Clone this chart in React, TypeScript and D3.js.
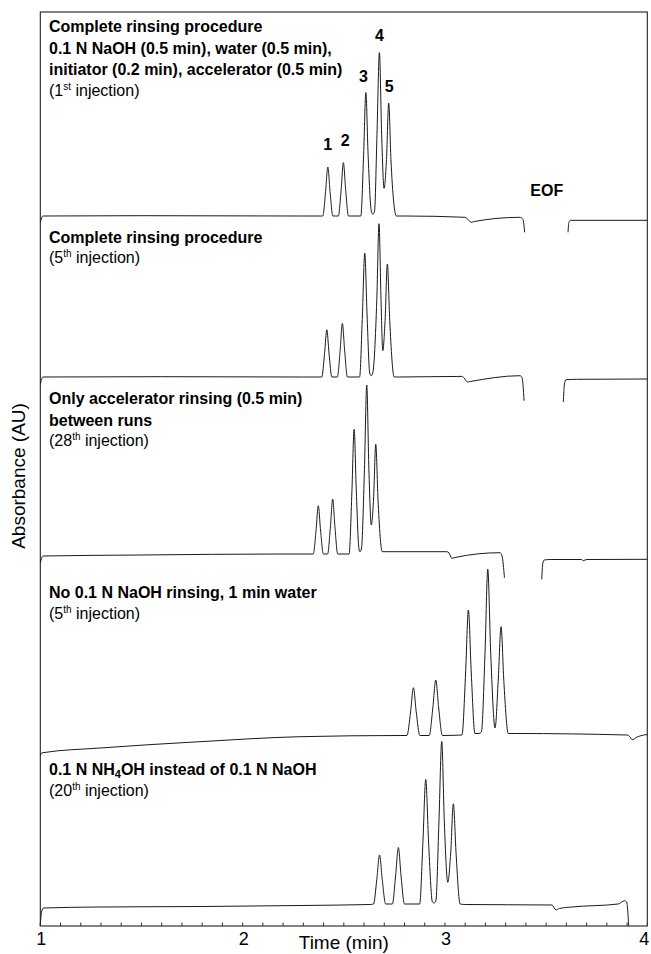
import React, { useEffect, useRef } from "react";
import * as d3 from "d3";

// time axis (min)
const timeDomain = [1, 4];
const timeTickLabels = [1, 2, 3, 4];

// baseline level of each trace (arbitrary absorbance units), top to bottom
const traceOffsets = [710, 549, 372, 190, 22];

// traces: segments of [time (min), signal above the trace baseline]
const trace1 = [
  [[1.0, -6.5], [1.013, 0], [1.5, 0.3], [2.3, 0], [2.396, 0], [2.41, 24.5], [2.421, 49], [2.432, 24.5], [2.446, 0],
    [2.473, 0], [2.487, 26.7], [2.498, 53.4], [2.509, 26.7], [2.523, 0],
    [2.584, 0], [2.598, 61.7], [2.609, 123.4], [2.62, 61.7], [2.636, 5], [2.644, 1.7], [2.652, 5],
    [2.664, 81.7], [2.676, 163.4], [2.687, 81.7], [2.699, 27.7], [2.711, 56.5], [2.722, 113], [2.733, 56.5], [2.76, 0],
    [2.8, 0], [3.1, -1.3], [3.13, -6.3], [3.145, -5.5], [3.37, -1.3], [3.385, -3.3], [3.394, -16.3]],
  [[3.608, -16.3], [3.613, -6.3], [3.621, -4.3], [4.0, -4.3]],
];
const trace2 = [
  [[1.0, -7.7], [1.013, 0], [1.6, 0.3], [2.3, 0], [2.391, 0], [2.405, 23.7], [2.416, 47.3], [2.427, 23.7], [2.441, 0],
    [2.468, 0], [2.482, 26.8], [2.493, 53.6], [2.504, 26.8], [2.518, 0],
    [2.578, 0], [2.592, 62], [2.6035, 124], [2.615, 62], [2.628, 4], [2.635, 1.3], [2.643, 4],
    [2.663, 76.7], [2.674, 153.3], [2.684, 76.7], [2.6926, 26.3], [2.704, 56.5], [2.7153, 113], [2.727, 56.5], [2.749, 0],
    [2.77, 0], [3.083, 0.6], [3.095, -1], [3.111, -5], [3.125, -4.5], [3.371, 1.3], [3.381, -0.7], [3.391, -23.7]],
  [[3.585, -25], [3.59, -8], [3.598, -2.7], [3.65, -2.3], [4.0, -2]],
];
const trace3 = [
  [[1.0, -9], [1.013, -2], [1.5, -1], [2.2, 0], [2.349, 0], [2.363, 24], [2.374, 48.3], [2.385, 24], [2.399, 0],
    [2.42, 0], [2.434, 27.5], [2.445, 55], [2.456, 27.5], [2.47, 0],
    [2.526, 0], [2.54, 62], [2.551, 124.7], [2.562, 62], [2.575, 5], [2.58, 2.3], [2.587, 5],
    [2.602, 84.5], [2.6134, 169], [2.624, 84.5], [2.636, 29], [2.647, 55], [2.658, 109.7], [2.669, 55], [2.69, 2.3],
    [2.75, 2.3], [3.009, 2.3], [3.02, 1], [3.034, -4.3], [3.05, -3.5], [3.272, 1.3], [3.282, -2], [3.294, -23.7]],
  [[3.4785, -25.3], [3.483, -10], [3.491, -6], [3.52, -5.5], [3.675, -5.5], [3.683, -6.7], [3.7, -5.5], [4.0, -5.3]],
];
const trace4 = [
  [[1.0, -20], [1.004, -17.5], [1.013, -16.7], [1.295, -12], [1.789, -5.7], [2.284, -0.7], [2.778, 0.5],
    [2.812, 0.5], [2.83, 24], [2.844, 48.3], [2.858, 24], [2.876, 0.5],
    [2.922, 0.5], [2.94, 28], [2.9545, 56], [2.969, 28], [2.987, 0.5],
    [3.084, 1], [3.102, 63], [3.1157, 126], [3.13, 63], [3.148, 2.5], [3.168, 2.5], [3.18, 4],
    [3.198, 83.3], [3.2116, 166.7], [3.226, 83.3], [3.2477, 8], [3.263, 54.7], [3.2773, 109.3], [3.291, 54.7], [3.313, 2.5],
    [3.35, 2.5], [3.9, 1], [3.915, -1], [3.925, -3.7], [3.95, -1], [4.0, 1.5]],
];
const trace5 = [
  [[1.0, -21], [1.006, -8], [1.016, -4], [1.295, -3], [1.8, -2.5], [2.284, -1.5], [2.63, -0.5],
    [2.647, 0], [2.663, 24.5], [2.6767, 49], [2.69, 24.5], [2.707, 0],
    [2.74, 0], [2.756, 28], [2.7697, 56.5], [2.783, 28], [2.8, 0],
    [2.875, 0], [2.891, 62], [2.905, 124.5], [2.919, 62], [2.938, 2], [2.946, 1], [2.955, 3],
    [2.97, 81], [2.984, 162.5], [2.997, 81], [3.014, 21.7], [3.028, 50], [3.0415, 100.2], [3.055, 50], [3.075, 0],
    [3.1, -0.5], [3.529, -1], [3.549, -6], [3.565, -4.5], [3.628, -3], [3.856, 0], [3.888, 3.3], [3.898, 2], [3.908, -21.6]],
];
const traces = [trace1, trace2, trace3, trace4, trace5];

// trace descriptions (bold lines), "_{x}" marks a subscript
const traceTitles = [
  ["Complete rinsing procedure", "0.1 N NaOH (0.5 min), water (0.5 min),", "initiator (0.2 min), accelerator (0.5 min)"],
  ["Complete rinsing procedure"],
  ["Only accelerator rinsing (0.5 min)", "between runs"],
  ["No 0.1 N NaOH rinsing, 1 min water"],
  ["0.1 N NH_{4}OH instead of 0.1 N NaOH"],
];
const injectionNumbers = ["1", "5", "28", "5", "20"];
const injectionSuffixes = ["st", "th", "th", "th", "th"];

// peak numbers on the first trace
const peakNames = ["1", "2", "3", "4", "5"];
const peakTimes = [2.421, 2.498, 2.609, 2.676, 2.722];
const peakHeights = [49, 53.4, 123.4, 163.4, 113];

const App = () => {
  const svgRef = useRef<SVGSVGElement>(null);

  useEffect(() => {
    const w = 651;
    const h = 954;
    const font = "'Liberation Sans', Arial, Helvetica, sans-serif";
    const svg = d3.select(svgRef.current)
      .attr("width", w)
      .attr("height", h)
      .style("font-family", font);
    svg.selectAll("*").remove();

    const x = d3.scaleLinear().domain(timeDomain).range([40.3, 647.3]);
    const y = d3.scaleLinear().domain([0, 914]).range([926, 12]);

    // frame
    svg.append("rect")
      .attr("x", x(1)).attr("y", y(914))
      .attr("width", x(4) - x(1)).attr("height", y(0) - y(914))
      .attr("fill", "none").attr("stroke", "#222").attr("stroke-width", 1.1);

    // minor ticks every 0.1 min, pointing inward
    const ticks = d3.range(0, 31).map(i => 1 + i / 10);
    svg.append("g").selectAll("line")
      .data(ticks)
      .join("line")
      .attr("x1", d => x(d)).attr("x2", d => x(d))
      .attr("y1", y(0)).attr("y2", y(0) - 3.5)
      .attr("stroke", "#333").attr("stroke-width", 1);

    svg.append("g").selectAll("text")
      .data(timeTickLabels)
      .join("text")
      .attr("x", d => (d === 4 ? x(d) - 3 : x(d) + 1))
      .attr("y", 945)
      .attr("text-anchor", "middle")
      .attr("font-size", 18)
      .text(d => d);

    svg.append("text")
      .attr("x", x(2.5)).attr("y", 949)
      .attr("text-anchor", "middle")
      .attr("font-size", 19)
      .text("Time (min)");

    svg.append("text")
      .attr("transform", `translate(25,${476}) rotate(-90)`)
      .attr("text-anchor", "middle")
      .attr("font-size", 19)
      .text("Absorbance (AU)");

    // traces
    traces.forEach((segments, i) => {
      const off = traceOffsets[i];
      const line = d3.line<number[]>()
        .x(d => x(d[0]))
        .y(d => y(off + d[1]))
        .curve(d3.curveMonotoneX);
      svg.append("g").selectAll("path")
        .data(segments)
        .join("path")
        .attr("d", d => line(d))
        .attr("fill", "none")
        .attr("stroke", "#1a1a1a")
        .attr("stroke-width", 1)
        .attr("stroke-linejoin", "round");
    });

    // trace descriptions
    const titleTops = [32.3, 242.5, 404.3, 598, 775];
    const lineGap = 21.3;
    traceTitles.forEach((lines, i) => {
      const g = svg.append("g");
      lines.forEach((ln, j) => {
        const t = g.append("text")
          .attr("x", 49).attr("y", titleTops[i] + j * lineGap)
          .attr("font-size", 16).attr("font-weight", "bold");
        const parts = ln.split(/(_\{[^}]*\})/);
        let shifted = false;
        parts.forEach(p => {
          if (!p) return;
          const m = p.match(/^_\{(.*)\}$/);
          if (m) {
            t.append("tspan").attr("font-size", 11).attr("dy", 3).text(m[1]);
            shifted = true;
          } else {
            const ts = t.append("tspan").text(p);
            if (shifted) { ts.attr("dy", -3); shifted = false; }
          }
        });
      });
      const inj = g.append("text")
        .attr("x", 49).attr("y", titleTops[i] + lines.length * lineGap - 0.5)
        .attr("font-size", 16);
      inj.append("tspan").text("(" + injectionNumbers[i]);
      inj.append("tspan").attr("font-size", 10).attr("dy", -6).text(injectionSuffixes[i]);
      inj.append("tspan").attr("dy", 6).text(" injection)");
    });

    // peak numbers
    const labelShift = [[0, 16.7], [1.7, 16.3], [-2.4, 10.6], [0, 11.6], [0.6, 11]];
    svg.append("g").selectAll("text")
      .data(peakNames)
      .join("text")
      .attr("x", (d, i) => x(peakTimes[i]) + labelShift[i][0])
      .attr("y", (d, i) => y(traceOffsets[0] + peakHeights[i]) - labelShift[i][1])
      .attr("text-anchor", "middle")
      .attr("font-size", 16).attr("font-weight", "bold")
      .text(d => d);

    svg.append("text")
      .attr("x", x(3.503)).attr("y", y(traceOffsets[0]) - 20)
      .attr("text-anchor", "middle")
      .attr("font-size", 16).attr("font-weight", "bold")
      .text("EOF");
  }, []);

  return (
    <svg ref={svgRef} style={{ position: "absolute", left: 0, top: 0, background: "#fff" }} />
  );
};

export default App;
